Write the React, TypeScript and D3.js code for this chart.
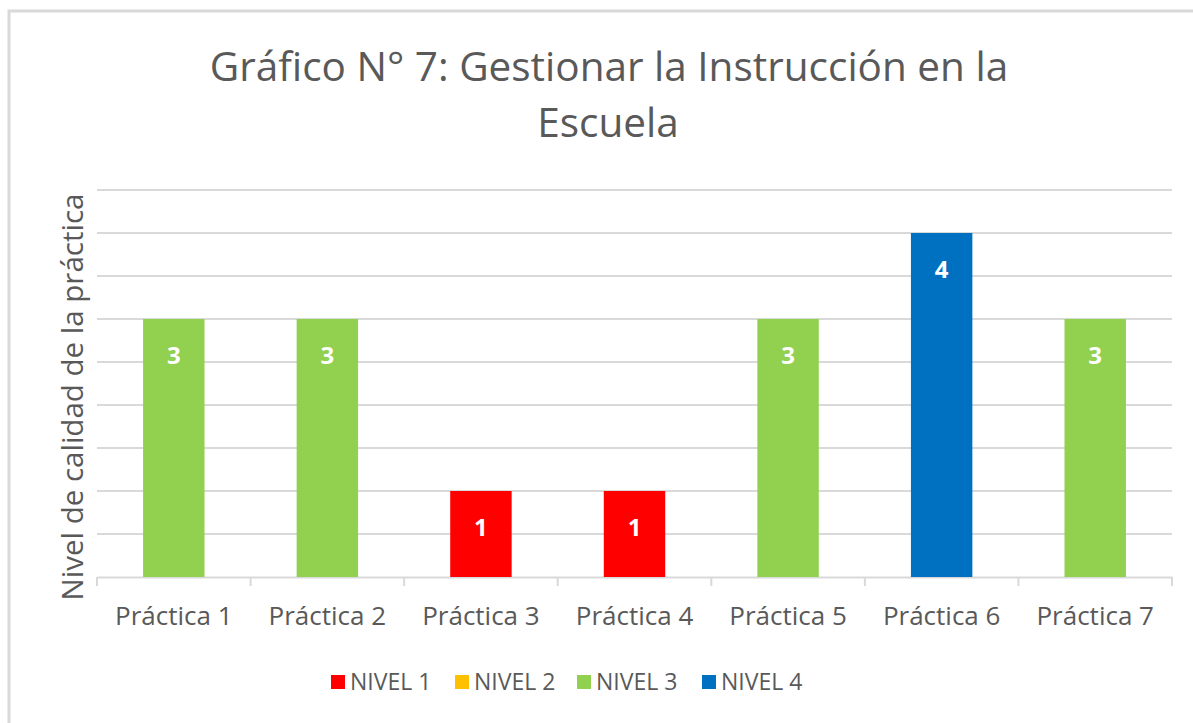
import React, { useEffect, useRef } from "react";
import * as d3 from "d3";

const categories = ["Práctica 1", "Práctica 2", "Práctica 3", "Práctica 4", "Práctica 5", "Práctica 6", "Práctica 7"];
const values = [3, 3, 1, 1, 3, 4, 3];
const levelNames = ["NIVEL 1", "NIVEL 2", "NIVEL 3", "NIVEL 4"];
const levelColors = ["#FF0000", "#FFC000", "#92D050", "#0070C0"];
const yTicks = [0, 0.5, 1, 1.5, 2, 2.5, 3, 3.5, 4, 4.5];

const FONT = "'Open Sans', 'Noto Sans', sans-serif";

export default function App() {
  const ref = useRef<SVGSVGElement>(null);

  useEffect(() => {
    const svg = d3.select(ref.current);
    svg.selectAll("*").remove();
    const W = 1193, H = 723;
    const m = { left: 97, right: 21, top: 190, bottom: 146 };

    // outer frame (only top and left visible)
    svg.append("path")
      .attr("d", `M9,${H} V11 H${W}`)
      .attr("fill", "none")
      .attr("stroke", "#d9d9d9")
      .attr("stroke-width", 3);

    const x = d3.scaleBand().domain(categories).range([m.left, W - m.right]).paddingInner(0).paddingOuter(0);
    const y = d3.scaleLinear().domain([0, 4.5]).range([H - m.bottom, m.top]);

    // gridlines
    svg.append("g")
      .selectAll("line")
      .data(yTicks.slice(1))
      .join("line")
      .attr("x1", m.left)
      .attr("x2", W - m.right)
      .attr("y1", (d) => y(d))
      .attr("y2", (d) => y(d))
      .attr("stroke", "#d9d9d9")
      .attr("stroke-width", 2);

    // x axis
    const xAxis = svg.append("g")
      .attr("transform", `translate(0, ${y(0)})`)
      .call(d3.axisBottom(x).tickSize(0).tickPadding(30));
    xAxis.select(".domain").attr("stroke", "#d9d9d9").attr("stroke-width", 2);
    xAxis.selectAll("text")
      .attr("font-family", FONT)
      .attr("font-size", 26)
      .attr("fill", "#595959");
    const bounds = [...categories.map((c) => x(c) as number), W - m.right];
    svg.append("g")
      .selectAll("line")
      .data(bounds)
      .join("line")
      .attr("x1", (d) => d)
      .attr("x2", (d) => d)
      .attr("y1", y(0))
      .attr("y2", y(0) + 9)
      .attr("stroke", "#d9d9d9")
      .attr("stroke-width", 2);

    // bars
    const bw = x.bandwidth() * 0.4;
    const bars = svg.append("g");
    bars.selectAll("rect")
      .data(values)
      .join("rect")
      .attr("x", (d, i) => (x(categories[i]) as number) + x.bandwidth() / 2 - bw / 2)
      .attr("y", (d) => y(d))
      .attr("width", bw)
      .attr("height", (d) => y(0) - y(d))
      .attr("fill", (d) => levelColors[d - 1]);
    bars.selectAll("text")
      .data(values)
      .join("text")
      .attr("x", (d, i) => (x(categories[i]) as number) + x.bandwidth() / 2)
      .attr("y", (d) => y(d) + 36)
      .attr("dy", "0.36em")
      .attr("text-anchor", "middle")
      .attr("font-family", FONT)
      .attr("font-weight", "bold")
      .attr("font-size", 24)
      .attr("fill", "#ffffff")
      .text((d) => d);

    // title
    const title = svg.append("text")
      .attr("text-anchor", "middle")
      .attr("font-family", FONT)
      .attr("font-size", 40.5)
      .attr("fill", "#595959");
    title.append("tspan").attr("x", 609).attr("y", 81).text("Gráfico N° 7: Gestionar la Instrucción en la");
    title.append("tspan").attr("x", 608).attr("y", 137).text("Escuela");

    // y axis title
    svg.append("text")
      .attr("transform", `translate(83, 397) rotate(-90)`)
      .attr("text-anchor", "middle")
      .attr("font-family", FONT)
      .attr("font-size", 29.5)
      .attr("fill", "#595959")
      .text("Nivel de calidad de la práctica");

    // legend
    const legendX = [331, 455, 577, 702];
    const lg = svg.append("g")
      .selectAll("g")
      .data(levelNames)
      .join("g")
      .attr("transform", (d, i) => `translate(${legendX[i]}, 675)`);
    lg.append("rect").attr("width", 14).attr("height", 14).attr("fill", (d, i) => levelColors[i]);
    lg.append("text")
      .attr("x", 19)
      .attr("y", 7)
      .attr("dy", "0.36em")
      .attr("font-family", FONT)
      .attr("font-size", 23)
      .attr("fill", "#595959")
      .text((d) => d);
  }, []);

  return (
    <svg
      ref={ref}
      width={1193}
      height={723}
      style={{ position: "absolute", left: 0, top: 0, background: "#ffffff" }}
    />
  );
}
